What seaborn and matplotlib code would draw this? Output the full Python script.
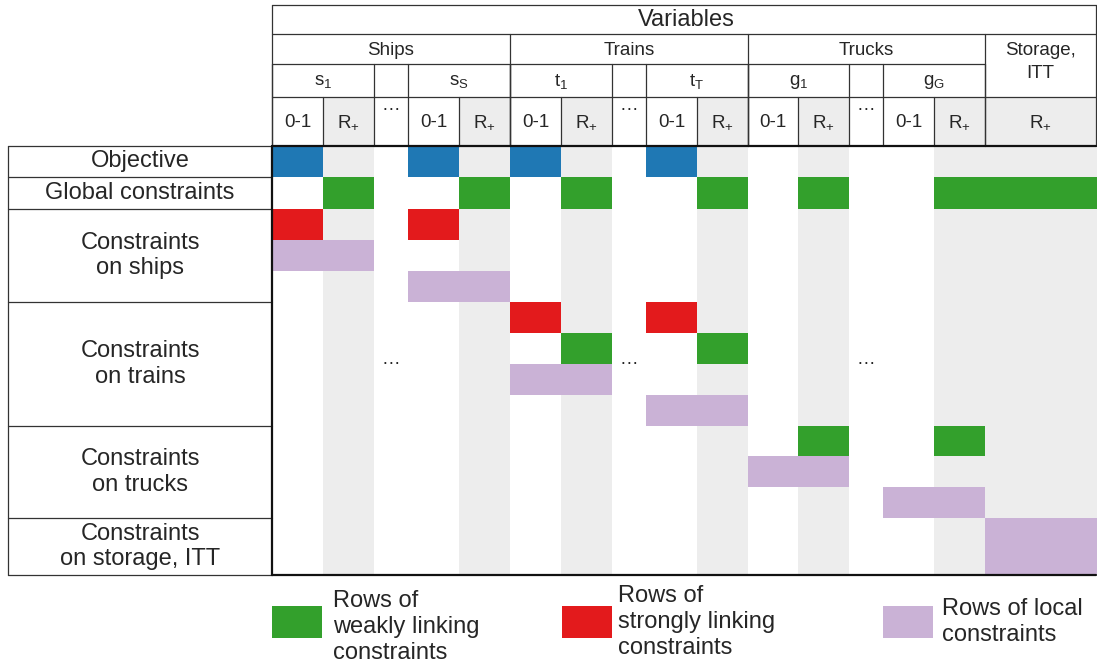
import numpy as np
import pandas as pd
import matplotlib.pyplot as plt
import seaborn as sns

# ---- data: block structure of the constraint matrix ----
columns = ["s1 0-1", "s1 R+", "ship dots", "sS 0-1", "sS R+",
           "t1 0-1", "t1 R+", "train dots", "tT 0-1", "tT R+",
           "g1 0-1", "g1 R+", "truck dots", "gG 0-1", "gG R+", "ITT R+"]
rows = ["obj", "global", "ship 1", "ship 2", "ship 3",
        "train 1", "train 2", "train 3", "train 4",
        "truck 1", "truck 2", "truck 3", "storage"]

objective_rows = [("obj", ["s1 0-1", "sS 0-1", "t1 0-1", "tT 0-1"])]
weak_rows = [("global", ["s1 R+", "sS R+", "t1 R+", "tT R+", "g1 R+", "gG R+", "ITT R+"]),
             ("train 2", ["t1 R+", "tT R+"]),
             ("truck 1", ["g1 R+", "gG R+"])]
strong_rows = [("ship 1", ["s1 0-1", "sS 0-1"]),
               ("train 1", ["t1 0-1", "tT 0-1"])]
local_rows = [("ship 2", ["s1 0-1", "s1 R+"]),
              ("ship 3", ["sS 0-1", "sS R+"]),
              ("train 3", ["t1 0-1", "t1 R+"]),
              ("train 4", ["tT 0-1", "tT R+"]),
              ("truck 2", ["g1 0-1", "g1 R+"]),
              ("truck 3", ["gG 0-1", "gG R+"]),
              ("storage", ["ITT R+"])]

row_groups = ["Objective", "Global constraints", "Constraints\non ships",
              "Constraints\non trains", "Constraints\non trucks",
              "Constraints\non storage, ITT"]
group_sizes = [1, 1, 3, 4, 3, 1]

vehicle_groups = ["Ships", "Trains", "Trucks"]
vehicles = [("s", "1"), ("s", "S"), ("t", "1"), ("t", "T"), ("g", "1"), ("g", "G")]

legend_labels = ["Rows of\nweakly linking\nconstraints",
                 "Rows of\nstrongly linking\nconstraints",
                 "Rows of local\nconstraints"]

# ---- layout (pixel units) ----
X0, Y0 = 272, 146
col_w = [51, 51, 34, 51, 51, 51, 51, 34, 51, 51, 50, 51, 34, 51, 51, 112]
row_h = [31, 32, 31, 31, 31, 31, 31, 31, 31, 30, 31, 31, 57]
x_edges = X0 + np.concatenate([[0], np.cumsum(col_w)])
y_edges = Y0 + np.concatenate([[0], np.cumsum(row_h)])
col_pos = {c: (x_edges[i], col_w[i]) for i, c in enumerate(columns)}
row_pos = {r: (y_edges[i], row_h[i]) for i, r in enumerate(rows)}
XR, YB = x_edges[-1] - 1, y_edges[-1]

colors = {"objective": "#1f78b4", "weak": "#33a02c",
          "strong": "#e31a1c", "local": "#cab2d6"}
GRAY = "#ededed"
LINE = "#333333"

cells = []
for kind, spec in [("objective", objective_rows), ("weak", weak_rows),
                   ("strong", strong_rows), ("local", local_rows)]:
    for r, cols in spec:
        for c in cols:
            cells.append((r, c, kind))
cells = pd.DataFrame(cells, columns=["row", "col", "kind"])

sns.set_theme(style="white")
plt.rcParams['font.family'] = ['Liberation Sans', 'DejaVu Sans']
plt.rcParams['mathtext.fontset'] = 'custom'
plt.rcParams['mathtext.rm'] = 'Liberation Sans'

fig = plt.figure(figsize=(10.97, 6.68), dpi=100)
ax = fig.add_axes([0, 0, 1, 1])
ax.set_xlim(0, 1097)
ax.set_ylim(668, 0)
ax.axis('off')

# gray background of continuous columns
for c in columns:
    if "R+" in c:
        x, w = col_pos[c]
        ax.bar(x, YB - 97, width=w, bottom=97, align='edge', color=GRAY, lw=0)

# coloured blocks
for _, cell in cells.iterrows():
    x, w = col_pos[cell["col"]]
    y, h = row_pos[cell["row"]]
    ax.bar(x, h, width=w, bottom=y, align='edge', color=colors[cell["kind"]], lw=0)

# ---- header ----
fs_big, fs_small = 17, 13.5
hl = dict(color=LINE, lw=0.9)
ax.plot([X0, XR], [5, 5], **hl)
ax.plot([XR, XR], [5, Y0], **hl)
ax.plot([X0, X0], [5, Y0], **hl)
ax.plot([X0, XR], [34, 34], **hl)
ax.plot([X0, x_edges[15]], [64, 64], **hl)
ax.plot([X0, XR], [97, 97], **hl)
ax.text((X0 + XR) / 2 + 2, 20.5, "Variables", ha='center', va='center', fontsize=fs_big)

group_edges = [x_edges[0], x_edges[5], x_edges[10], x_edges[15]]
for i, g in enumerate(vehicle_groups):
    ax.text((group_edges[i] + group_edges[i + 1]) / 2, 50.5, g,
            ha='center', va='center', fontsize=fs_small)
for xe in group_edges[1:]:
    ax.plot([xe, xe], [34, Y0], **hl)
ax.text((x_edges[15] + XR) / 2, 50.5, "Storage,", ha='center', va='center', fontsize=fs_small)
ax.text((x_edges[15] + XR) / 2, 73, "ITT", ha='center', va='center', fontsize=fs_small)

pair_starts = [0, 3, 5, 8, 10, 13]
for (name, sub), i in zip(vehicles, pair_starts):
    xl, xr = x_edges[i], x_edges[i + 2]
    ax.text((xl + xr) / 2, 82, name + r"$_{\mathrm{" + sub + "}}$",
            ha='center', va='center', fontsize=fs_small)
    ax.plot([xl, xl], [64, Y0], **hl)
    ax.plot([xr, xr], [64, Y0], **hl)
    ax.plot([x_edges[i + 1], x_edges[i + 1]], [97, Y0], **hl)
    ax.text(x_edges[i] + col_w[i] / 2, 122.5, "0-1", ha='center', va='center', fontsize=fs_small)
    ax.text(x_edges[i + 1] + col_w[i + 1] / 2, 123, r"R$_{\mathrm{+}}$",
            ha='center', va='center', fontsize=fs_small)
ax.text((x_edges[15] + XR) / 2, 123, r"R$_{\mathrm{+}}$", ha='center', va='center', fontsize=fs_small)

# dots columns
for c in ["ship dots", "train dots", "truck dots"]:
    x, w = col_pos[c]
    ax.text(x + w / 2, 106, "\u2026", ha='center', va='center', fontsize=fs_small)
    ax.text(x + w / 2, 360, "\u2026", ha='center', va='center', fontsize=fs_small)

# ---- row labels ----
LX = 8
bounds = Y0 + np.concatenate([[0], np.cumsum([sum(row_h[a:a + n]) for a, n in
                                              zip(np.cumsum([0] + group_sizes[:-1]), group_sizes)])])
for yb in bounds:
    ax.plot([LX, X0], [yb, yb], **hl)
ax.plot([LX, LX], [Y0, YB], **hl)
for i, lab in enumerate(row_groups):
    ax.text(140, (bounds[i] + bounds[i + 1]) / 2, lab, ha='center', va='center',
            fontsize=fs_big, linespacing=1.2)

# thick frame of the matrix body
ax.plot([X0, XR], [Y0, Y0], color='#111111', lw=1.6)
ax.plot([X0, XR], [YB, YB], color='#111111', lw=1.6)
ax.plot([X0, X0], [Y0, YB], color='#111111', lw=1.6)

# ---- legend ----
legend_kinds = ["weak", "strong", "local"]
legend_x = [272, 562, 883]
legend_text_x = [333, 618, 942]
legend_text_y = [627, 622, 622]
for k, lab, lx, tx, ty in zip(legend_kinds, legend_labels, legend_x, legend_text_x, legend_text_y):
    ax.bar(lx, 32, width=50, bottom=606, align='edge', color=colors[k], lw=0)
    ax.text(tx, ty, lab, ha='left', va='center', fontsize=fs_big, linespacing=1.25)

fig.savefig("out.png", dpi=100)
